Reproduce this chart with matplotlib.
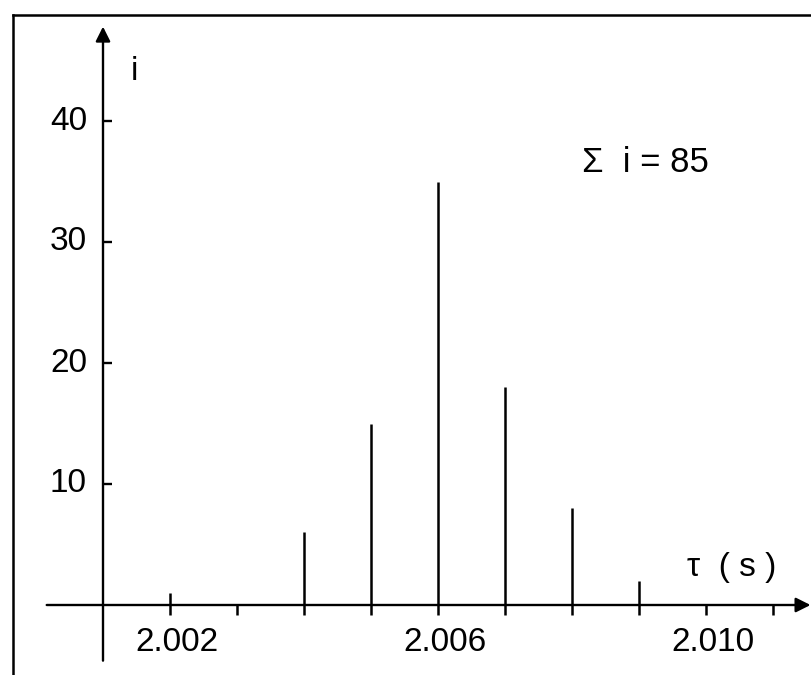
import matplotlib
matplotlib.use("Agg")
import matplotlib.pyplot as plt

# decay times (s) and number of counts i
tau = [2.002, 2.004, 2.005, 2.006, 2.007, 2.008, 2.009]
counts = [1, 6, 15, 35, 18, 8, 2]
x_ticks = [2.002, 2.003, 2.004, 2.005, 2.006, 2.007, 2.008, 2.009, 2.010, 2.011]
x_labels = {2.002: "2.002", 2.006: "2.006", 2.010: "2.010"}
y_ticks = [10, 20, 30, 40]

plt.rcParams['font.family'] = ['Liberation Sans', 'DejaVu Sans']

fig = plt.figure(figsize=(8.11, 6.75), dpi=100)
ax = fig.add_axes([0, 0, 1, 1])
ax.set_xlim(2.006 - 438 / 67000, 2.006 + 373 / 67000)
ax.set_ylim(-70 / 12.1, 50)
ax.axis("off")

# frame of the scanned page (top and left only)
ax.plot([0.016, 1.0], [0.978, 0.978], transform=ax.transAxes, color="black", lw=1.8, clip_on=False)
ax.plot([0.016, 0.016], [0.0, 0.978], transform=ax.transAxes, color="black", lw=1.8, clip_on=False)

arrow = dict(arrowstyle="-|>", lw=1.7, color="black", mutation_scale=22, shrinkA=0, shrinkB=0)
y0 = 2.001
ax.annotate("", xy=(y0, 47.8), xytext=(y0, -4.6), arrowprops=arrow, annotation_clip=False)
ax.annotate("", xy=(2.01156, 0), xytext=(2.00016, 0), arrowprops=arrow, annotation_clip=False)

# ticks
ax.vlines(x_ticks, -0.85, 0, color="black", lw=1.8)
ax.hlines(y_ticks, y0, y0 + 0.000135, color="black", lw=1.7)

# counts
ax.vlines(tau, 0, counts, color="black", lw=1.8)

for x, s in x_labels.items():
    ax.text(x + 0.0001, -3.1, s, ha="center", va="center", fontsize=24)
for y in y_ticks:
    ax.text(y0 - 0.00024, y, str(y), ha="right", va="center", fontsize=24)

ax.text(2.00141, 44.1, "i", ha="left", va="center", fontsize=24)
ax.text(2.00815, 36.6, "Σ  i = 85", ha="left", va="center", fontsize=25)
ax.text(2.00972, 3.1, "τ  ( s )", ha="left", va="center", fontsize=24)

fig.savefig("out.png", dpi=100)
